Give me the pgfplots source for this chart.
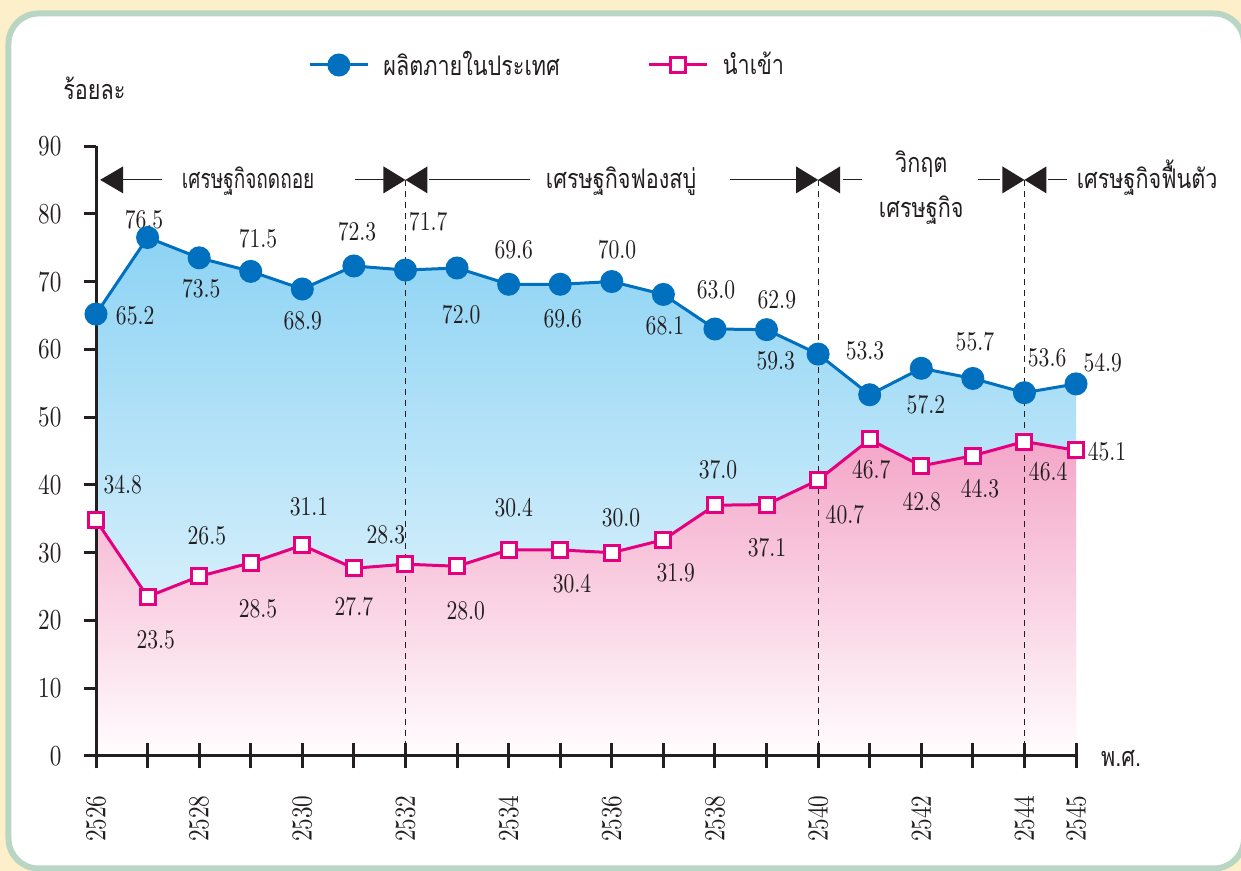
\documentclass[border=0pt]{standalone}
\usepackage{fontspec}
\usepackage{pgfplots}
\pgfplotsset{compat=1.18}
\newfontfamily\thai[Script=Thai, FakeStretch=0.8]{Loma}
\newfontfamily\numfont{lmroman10-regular.otf}[FakeStretch=0.8]
\definecolor{bgy}{HTML}{FDEFC9}
\definecolor{brd}{HTML}{B9D5C3}
\definecolor{myblue}{HTML}{0070BF}
\definecolor{mypink}{HTML}{E5007F}
\definecolor{bluetop}{HTML}{8DD3F4}
\definecolor{bluebot}{HTML}{F4FBFE}
\definecolor{pinktop}{HTML}{F4A6C8}
\definecolor{pinkbot}{HTML}{FFFDFE}
\definecolor{ink}{HTML}{231F20}
\newcommand\thaisize{\thai\fontsize{13.5}{16}\selectfont}
\newcommand\lab[3]{\node[font=\numfont\fontsize{13.5}{15}\selectfont, inner sep=0pt, text=ink] at (axis cs:#1,#2) {#3};}
\newcommand\btie[1]{%
  \fill[ink] (axis cs:#1,85) -- ++(-11pt,6.75pt) -- ++(0,-13.5pt) -- cycle;
  \fill[ink] (axis cs:#1,85) -- ++(11pt,6.75pt) -- ++(0,-13.5pt) -- cycle;}
\begin{document}
\begin{tikzpicture}
\useasboundingbox (-48pt,-57.5pt) rectangle (572.5pt,378pt);
\fill[bgy] (-48pt,-57.5pt) rectangle (572.5pt,378pt);
\begin{scope}
\clip (-48pt,-57.5pt) rectangle (572.5pt,378pt);
\draw[line width=3pt, draw=brd, fill=white, rounded corners=15pt] (-43.75pt,-56.25pt) rectangle (574pt,371.25pt);
\end{scope}
\begin{axis}[
  scale only axis, width=490pt, height=305pt,
  xmin=0, xmax=19, ymin=0, ymax=90,
  clip=false,
  axis lines=left, axis line style={-, line width=1.5pt, ink},
  xtick={0,1,...,19},
  xticklabels={\mbox{2526},,\mbox{2528},,\mbox{2530},,\mbox{2532},,\mbox{2534},,\mbox{2536},,\mbox{2538},,\mbox{2540},,\mbox{2542},,\mbox{2544},\mbox{2545}},
  ytick={0,10,...,90},
  tick align=center, major tick length=12.5pt,
  tick style={line width=1.5pt, ink},
  ytick style={draw=none},
  xticklabel style={rotate=90, anchor=east, font=\numfont\fontsize{14.5}{16}\selectfont, text=ink},
  xticklabel shift=10pt,
  yticklabel style={font=\numfont\fontsize{14.5}{16}\selectfont, text=ink, xshift=-7.5pt},
  /pgf/number format/assume math mode=true,
  legend style={draw=none, fill=none, at={(0.2102,1.1328)}, anchor=west, legend columns=2,
    font=\thaisize, text=ink,
    /tikz/every odd column/.append style={column sep=5pt},
    /tikz/every even column/.append style={column sep=42pt}},
  legend image code/.code={\draw[mark repeat=2,mark phase=2,#1] plot coordinates {(0pt,0pt) (14.5pt,0pt) (29pt,0pt)};},
]
\addplot[draw=none, top color=bluetop, bottom color=bluebot, forget plot] coordinates {
(0,65.2)(1,76.5)(2,73.5)(3,71.5)(4,68.9)(5,72.3)(6,71.7)(7,72.0)(8,69.6)(9,69.6)(10,70.0)(11,68.1)(12,63.0)(13,62.9)(14,59.3)(15,53.3)(16,57.2)(17,55.7)(18,53.6)(19,54.9)} \closedcycle;
\addplot[draw=none, top color=pinktop, bottom color=pinkbot, forget plot] coordinates {
(0,34.8)(1,23.5)(2,26.5)(3,28.5)(4,31.1)(5,27.7)(6,28.3)(7,28.0)(8,30.4)(9,30.4)(10,30.0)(11,31.9)(12,37.0)(13,37.1)(14,40.7)(15,46.7)(16,42.8)(17,44.3)(18,46.4)(19,45.1)} \closedcycle;

% dashed separators
\draw[ink, line width=0.6pt, dash pattern=on 3pt off 2.5pt] (axis cs:6,85) -- (axis cs:6,0);
\draw[ink, line width=0.6pt, dash pattern=on 3pt off 2.5pt] (axis cs:14,85) -- (axis cs:14,0);
\draw[ink, line width=0.6pt, dash pattern=on 3pt off 2.5pt] (axis cs:18,85) -- (axis cs:18,0);

% y ticks, upper halves of x ticks over the fills, axis lines over the fills
\pgfplotsinvokeforeach{0,10,...,90}{\draw[ink, line width=1.5pt] (axis cs:0,#1) -- ++(-6pt,0);}
\pgfplotsinvokeforeach{1,2,...,19}{\draw[ink, line width=1.5pt] (axis cs:#1,0) -- ++(0,6.25pt);}
\draw[ink, line width=1.5pt] (axis cs:-0.17,0) -- (axis cs:19,0);
\draw[ink, line width=1.5pt] (axis cs:0,0) -- (axis cs:0,90);

% period annotations
\fill[ink] (axis cs:0.08,85) -- ++(11.5pt,6.75pt) -- ++(0,-13.5pt) -- cycle;
\draw[ink, line width=0.6pt] (axis cs:0.52,85) -- (axis cs:1.28,85);
\draw[ink, line width=0.6pt] (axis cs:5.02,85) -- (axis cs:5.6,85);
\btie{6}
\draw[ink, line width=0.6pt] (axis cs:6.45,85) -- (axis cs:8.41,85);
\draw[ink, line width=0.6pt] (axis cs:12.29,85) -- (axis cs:13.59,85);
\btie{14}
\draw[ink, line width=0.6pt] (axis cs:14.48,85) -- (axis cs:14.85,85);
\draw[ink, line width=0.6pt] (axis cs:17.1,85) -- (axis cs:17.53,85);
\btie{18}
\draw[ink, line width=0.6pt] (axis cs:18.45,85) -- (axis cs:18.83,85);

\node[anchor=base, font=\thaisize, text=ink, inner sep=0pt, xscale=0.88] at (axis cs:2.95,83.8) {เศรษฐกิจถดถอย};
\node[anchor=base, font=\thaisize, text=ink, inner sep=0pt] at (axis cs:10.18,83.8) {เศรษฐกิจฟองสบู่};
\node[anchor=base, font=\thaisize, text=ink, inner sep=0pt] at (axis cs:16.0,86.1) {วิกฤต};
\node[anchor=base, font=\thaisize, text=ink, inner sep=0pt] at (axis cs:16.0,79.4) {เศรษฐกิจ};
\node[anchor=base, font=\thaisize, text=ink, inner sep=0pt] at (axis cs:20.38,83.8) {เศรษฐกิจฟื้นตัว};
\node[anchor=base west, font=\thaisize, text=ink, inner sep=0pt] at (axis cs:-0.64,96.8) {ร้อยละ};
\node[anchor=base west, font=\thaisize, text=ink, inner sep=0pt] at (axis cs:19.48,-1.6) {พ.ศ.};

\addplot[color=myblue, line width=1.5pt, mark=*, mark size=5pt, mark options={fill=myblue, draw=none}] coordinates {
(0,65.2)(1,76.5)(2,73.5)(3,71.5)(4,68.9)(5,72.3)(6,71.7)(7,72.0)(8,69.6)(9,69.6)(10,70.0)(11,68.1)(12,63.0)(13,62.9)(14,59.3)(15,53.3)(16,57.2)(17,55.7)(18,53.6)(19,54.9)};
\addlegendentry{ผลิตภายในประเทศ}
\addplot[color=mypink, line width=1.5pt, mark=square*, mark size=3.75pt, mark options={fill=white, draw=mypink}] coordinates {
(0,34.8)(1,23.5)(2,26.5)(3,28.5)(4,31.1)(5,27.7)(6,28.3)(7,28.0)(8,30.4)(9,30.4)(10,30.0)(11,31.9)(12,37.0)(13,37.1)(14,40.7)(15,46.7)(16,42.8)(17,44.3)(18,46.4)(19,45.1)};
\addlegendentry{นำเข้า}

% blue value labels
\lab{0.76}{64.9}{65.2}
\lab{0.93}{79.2}{76.5}
\lab{2.04}{68.9}{73.5}
\lab{3.14}{76.3}{71.5}
\lab{4.01}{64.2}{68.9}
\lab{5.06}{77.3}{72.3}
\lab{6.44}{78.8}{71.7}
\lab{7.08}{65.1}{72.0}
\lab{8.10}{74.7}{69.6}
\lab{9.05}{64.5}{69.6}
\lab{10.10}{74.7}{70.0}
\lab{11.03}{63.4}{68.1}
\lab{12.02}{68.8}{63.0}
\lab{13.20}{67.3}{62.9}
\lab{13.18}{58.3}{59.3}
\lab{14.91}{59.8}{53.3}
\lab{16.09}{51.9}{57.2}
\lab{17.04}{61.1}{55.7}
\lab{18.44}{58.7}{53.6}
\lab{19.52}{58.0}{54.9}
% pink value labels
\lab{0.52}{40.1}{34.8}
\lab{1.16}{17.1}{23.5}
\lab{2.15}{32.5}{26.5}
\lab{3.14}{21.7}{28.5}
\lab{4.13}{36.7}{31.1}
\lab{5.00}{22.1}{27.7}
\lab{5.62}{32.6}{28.3}
\lab{7.17}{21.4}{28.0}
\lab{8.10}{36.6}{30.4}
\lab{9.23}{25.4}{30.4}
\lab{10.18}{35.1}{30.0}
\lab{11.24}{27.0}{31.9}
\lab{12.06}{42.2}{37.0}
\lab{13.01}{30.7}{37.1}
\lab{14.52}{35.6}{40.7}
\lab{15.03}{42.2}{46.7}
\lab{16.01}{37.5}{42.8}
\lab{17.14}{39.4}{44.3}
\lab{18.46}{41.9}{46.4}
\lab{19.60}{44.9}{45.1}
\end{axis}
\end{tikzpicture}
\end{document}
